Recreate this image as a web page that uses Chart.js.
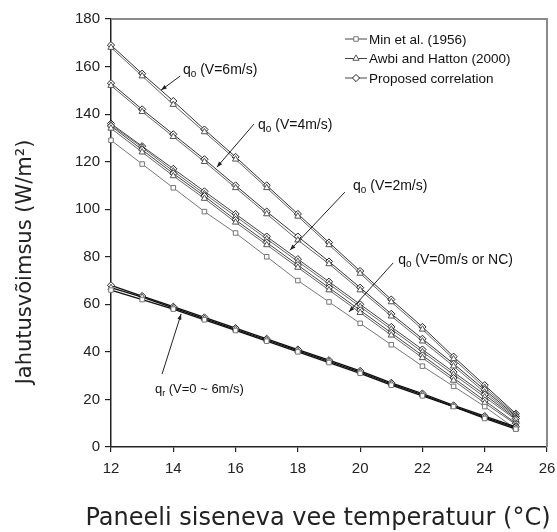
<!DOCTYPE html>
<html lang="et">
<head>
<meta charset="UTF-8" />
<title>Jahutusvõimsus</title>
<script src="https://cdn.jsdelivr.net/npm/chart.js"></script>
<style>
  html, body { margin: 0; padding: 0; background: #fff; }
  #wrap { width: 557px; height: 532px; }
</style>
</head>
<body>
<div id="wrap"><canvas id="qChart"></canvas></div>
<script>
// water inlet temperature (°C)
const temps = [12, 13, 14, 15, 16, 17, 18, 19, 20, 21, 22, 23, 24, 25];

// convective cooling q_o, proposed correlation
const propV6 = [169, 157, 145.5, 133.5, 122, 110, 98, 86, 74, 62, 50.5, 38, 26, 14];
const propV4 = [153, 142, 131.5, 121, 110, 99, 88.5, 78, 67, 56, 45.5, 35, 24, 13];
const propV2 = [136, 126.5, 117, 107.5, 98, 88.5, 79, 69.5, 60, 50.5, 41, 31.5, 22, 12];
const propV0 = [135, 125, 115, 105.5, 95.5, 86, 76.5, 67, 57.5, 48, 38.5, 29, 19.5, 10];

// Awbi and Hatton (2000)
const awbiV6 = [168, 156, 144, 132.5, 121, 109, 97, 85, 73, 61, 49.5, 37, 25, 13.5];
const awbiV4 = [152, 141, 130.5, 120, 109, 98, 87, 77, 66, 55, 44.5, 34, 23, 12.5];
const awbiV2 = [135.5, 126, 116, 106.5, 97, 87.5, 78, 68.5, 59, 49.5, 40, 30.5, 21, 11.5];
const awbiV0 = [134, 124, 114, 104.5, 94.5, 85, 75.5, 66, 56.5, 47, 37.5, 28, 18.5, 9.5];

// Min et al. (1956), natural convection
const minNC = [129, 119, 109, 99, 90, 80, 70, 61, 52, 43, 34, 25.5, 17, 7.5];

// radiative q_r, V = 0 ~ 6 m/s
const qrMin = [66, 62, 58, 53.5, 49, 44.5, 40, 35.5, 31, 26, 21.5, 17, 12, 7.5];
const qrAwbi = [67, 63, 58.5, 54, 49.5, 45, 40.5, 36, 31.5, 26.5, 22, 17, 12.5, 8];
const qrProp = [68, 63.5, 59, 54.5, 50, 45.5, 41, 36.5, 32, 27, 22.5, 17.5, 13, 8.5];

const xTicks = [12, 14, 16, 18, 20, 22, 24, 26];
const yTicks = [0, 20, 40, 60, 80, 100, 120, 140, 160, 180];

const legendNames = ["Min et al. (1956)", "Awbi and Hatton (2000)", "Proposed correlation"];

// curve labels: [main, subscript, rest, textX, textY, arrowFromX, arrowFromY, arrowToX, arrowToY]
const curveLabels = [
  ["q", "o", " (V=6m/s)", 14.31, 156.9, 14.22, 156, 13.61, 150.1],
  ["q", "o", " (V=4m/s)", 16.72, 133.7, 16.59, 135.8, 15.4, 117.7],
  ["q", "o", " (V=2m/s)", 19.77, 108.1, 19.51, 107.2, 17.75, 82.8],
  ["q", "o", " (V=0m/s or NC)", 21.22, 77, 21.06, 77.4, 19.64, 56.8],
  ["q", "r", " (V=0 ~ 6m/s)", 13.41, 22.7, 13.64, 30.7, 14.25, 55.9]
];

const styles = {
  min: { pointStyle: "rect", color: "#777", radius: 3.2 },
  awbi: { pointStyle: "triangle", color: "#555", radius: 3.6 },
  prop: { pointStyle: "rectRot", color: "#222", radius: 3.6 }
};

function series(label, values, kind, lineColor, lineWidth) {
  const s = styles[kind];
  return {
    label: label,
    data: temps.map((t, i) => ({ x: t, y: values[i] })),
    borderColor: lineColor || s.color,
    borderWidth: lineWidth || 1,
    pointStyle: s.pointStyle,
    pointRadius: s.radius,
    pointBackgroundColor: "#fff",
    pointBorderColor: s.color,
    pointBorderWidth: 1,
    fill: false,
    tension: 0,
    clip: false
  };
}

const datasets = [
  series("qr Min", qrMin, "min", "#111", 1.3),
  series("qr Awbi", qrAwbi, "awbi", "#111", 1.3),
  series("qr Prop", qrProp, "prop", "#111", 1.3),
  series("Min NC", minNC, "min", "#777"),
  series("Awbi V0", awbiV0, "awbi", "#666"),
  series("Prop V0", propV0, "prop", "#444"),
  series("Awbi V2", awbiV2, "awbi", "#666"),
  series("Prop V2", propV2, "prop", "#444"),
  series("Awbi V4", awbiV4, "awbi", "#666"),
  series("Prop V4", propV4, "prop", "#333"),
  series("Awbi V6", awbiV6, "awbi", "#666"),
  series("Prop V6", propV6, "prop", "#333")
];

function drawMarker(ctx, kind, x, y) {
  const s = styles[kind];
  Chart.helpers.drawPoint(ctx, { pointStyle: s.pointStyle, radius: s.radius, borderWidth: 1, rotation: 0 }, x, y);
}

const overlay = {
  id: "overlay",
  afterDraw(chart) {
    const ctx = chart.ctx;
    const a = chart.chartArea;
    const xs = chart.scales.x, ys = chart.scales.y;
    ctx.save();

    // grey frame on top and right
    ctx.strokeStyle = "#8a8a8a";
    ctx.lineWidth = 2;
    ctx.beginPath();
    ctx.moveTo(a.left, a.top);
    ctx.lineTo(a.right, a.top);
    ctx.lineTo(a.right, a.bottom);
    ctx.stroke();

    // legend
    const kinds = ["min", "awbi", "prop"];
    ctx.font = '13.5px "Liberation Sans", Arial, sans-serif';
    ctx.textBaseline = "middle";
    ctx.textAlign = "left";
    kinds.forEach((k, i) => {
      const ly = a.top + 20 + i * 19.5;
      const lx = a.right - 202;
      ctx.strokeStyle = "#444";
      ctx.lineWidth = 1;
      ctx.beginPath();
      ctx.moveTo(lx, ly);
      ctx.lineTo(lx + 22, ly);
      ctx.stroke();
      ctx.fillStyle = "#fff";
      ctx.strokeStyle = styles[k].color;
      drawMarker(ctx, k, lx + 11, ly);
      ctx.fillStyle = "#111";
      ctx.fillText(legendNames[i], lx + 24, ly + 1);
    });

    // curve labels with arrows
    ctx.textBaseline = "alphabetic";
    curveLabels.forEach((c) => {
      const size = c[1] === "r" ? 13 : 14;
      let tx = xs.getPixelForValue(c[3]);
      const ty = ys.getPixelForValue(c[4]);
      ctx.fillStyle = "#111";
      ctx.font = size + 'px "Liberation Sans", Arial, sans-serif';
      ctx.fillText(c[0], tx, ty);
      tx += ctx.measureText(c[0]).width;
      ctx.font = Math.round(size * 0.7) + 'px "Liberation Sans", Arial, sans-serif';
      ctx.fillText(c[1], tx, ty + 3);
      tx += ctx.measureText(c[1]).width;
      ctx.font = size + 'px "Liberation Sans", Arial, sans-serif';
      ctx.fillText(c[2], tx, ty);

      const x0 = xs.getPixelForValue(c[5]), y0 = ys.getPixelForValue(c[6]);
      const x1 = xs.getPixelForValue(c[7]), y1 = ys.getPixelForValue(c[8]);
      ctx.strokeStyle = "#222";
      ctx.lineWidth = 1;
      ctx.beginPath();
      ctx.moveTo(x0, y0);
      ctx.lineTo(x1, y1);
      ctx.stroke();
      const ang = Math.atan2(y1 - y0, x1 - x0);
      ctx.fillStyle = "#222";
      ctx.beginPath();
      ctx.moveTo(x1, y1);
      ctx.lineTo(x1 - 6 * Math.cos(ang - 0.35), y1 - 6 * Math.sin(ang - 0.35));
      ctx.lineTo(x1 - 6 * Math.cos(ang + 0.35), y1 - 6 * Math.sin(ang + 0.35));
      ctx.closePath();
      ctx.fill();
    });

    // axis titles
    ctx.fillStyle = "#222";
    ctx.font = '21px "DejaVu Sans", sans-serif';
    ctx.textAlign = "center";
    ctx.save();
    ctx.translate(31, (a.top + a.bottom) / 2 + 29);
    ctx.rotate(-Math.PI / 2);
    ctx.fillText("Jahutusvõimsus (W/m²)", 0, 0);
    ctx.restore();
    ctx.font = '24px "DejaVu Sans", sans-serif';
    ctx.fillText("Paneeli siseneva vee temperatuur (°C)", 318, 525);

    ctx.restore();
  }
};

new Chart(document.getElementById("qChart"), {
  type: "line",
  data: { datasets: datasets },
  plugins: [overlay],
  options: {
    responsive: true,
    maintainAspectRatio: false,
    animation: false,
    layout: { padding: { top: 19, right: 10, left: 0, bottom: 0 } },
    plugins: {
      legend: { display: false },
      tooltip: { enabled: false }
    },
    scales: {
      x: {
        type: "linear",
        min: 12,
        max: 26,
        afterBuildTicks: (s) => { s.ticks = xTicks.map((v) => ({ value: v })); },
        afterFit: (s) => { s.height = 85; s.paddingRight = 0; s.paddingLeft = 0; },
        ticks: {
          color: "#222",
          padding: 8,
          font: { family: '"Liberation Sans", Arial, sans-serif', size: 15 }
        },
        grid: { drawOnChartArea: false, tickLength: 5, color: "#222", lineWidth: 1.2 },
        border: { color: "#222", width: 1.5 }
      },
      y: {
        min: 0,
        max: 180,
        afterBuildTicks: (s) => { s.ticks = yTicks.map((v) => ({ value: v })); },
        afterFit: (s) => { s.width = 111; s.paddingTop = 0; s.paddingBottom = 0; },
        ticks: {
          color: "#222",
          padding: 5,
          font: { family: '"Liberation Sans", Arial, sans-serif', size: 15 }
        },
        grid: { drawOnChartArea: false, tickLength: 6, color: "#222", lineWidth: 1.2 },
        border: { color: "#222", width: 1.5 }
      }
    }
  }
});
</script>
</body>
</html>
